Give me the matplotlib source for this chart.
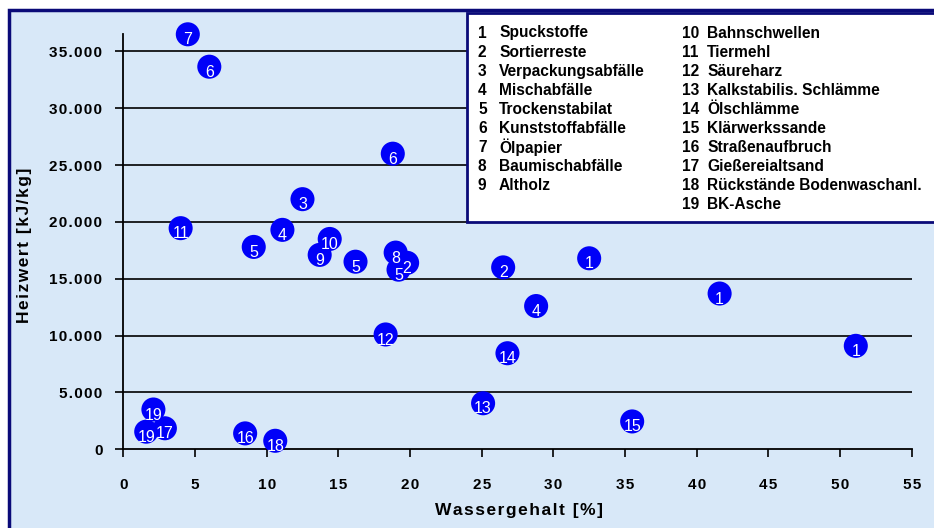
import matplotlib.pyplot as plt
from matplotlib.patches import Rectangle

# Data
wassergehalt = [4.5, 6.0, 18.8, 12.5, 4.0, 11.1, 14.4, 9.1, 13.7, 16.2,
                19.0, 19.8, 19.2, 26.5, 32.5, 41.6, 28.8, 51.1, 26.8,
                25.1, 35.5, 18.3, 2.1, 1.6, 2.9, 8.5, 10.6]
heizwert = [36500, 33650, 26000, 22000, 19450, 19300, 18500, 17800, 17100, 16500,
            17300, 16400, 15800, 16000, 16800, 13700, 12600, 9100, 8450,
            4050, 2450, 10100, 3500, 1550, 1850, 1400, 750]
nummer = ["7", "6", "6", "3", "11", "4", "10", "5", "9", "5",
          "8", "2", "5", "2", "1", "1", "4", "1", "14",
          "13", "15", "12", "19", "19", "17", "16", "18"]

stoffe = ["Spuckstoffe", "Sortierreste", "Verpackungsabfälle", "Mischabfälle",
          "Trockenstabilat", "Kunststoffabfälle", "Ölpapier", "Baumischabfälle",
          "Altholz", "Bahnschwellen", "Tiermehl", "Säureharz",
          "Kalkstabilis. Schlämme", "Ölschlämme", "Klärwerkssande",
          "Straßenaufbruch", "Gießereialtsand", "Rückstände Bodenwaschanl.",
          "BK-Asche"]

x_ticks = list(range(0, 60, 5))
y_ticks = list(range(0, 40000, 5000))

W, H = 934, 528
FONT = ["Liberation Sans", "DejaVu Sans"]
plt.rcParams["font.family"] = FONT
SP = "\u200a"  # small gap between letters, like the original


def spaced(s):
    return SP.join(s)


def fx(px):
    return px / W


def fy(py):
    return 1 - py / H


fig = plt.figure(figsize=(W / 100, H / 100), dpi=100)
fig.patch.set_facecolor("white")

# light blue chart area with navy frame
fig.patches.append(Rectangle((fx(9), fy(560)), fx(960), fy(10) - fy(560),
                             transform=fig.transFigure, facecolor="#d8e8f8",
                             edgecolor="#0a0a78", lw=2.5, zorder=0))

ax = fig.add_axes([fx(123.3), fy(449.3), fx(911.7 - 123.3), (449.3 - 34.3) / H])
ax.set_zorder(1)
ax.set_facecolor("none")
ax.set_xlim(0, 55)
ax.set_ylim(0, 36500)

for s in ["top", "right"]:
    ax.spines[s].set_visible(False)
ax.spines["left"].set_linewidth(1.3)
ax.spines["bottom"].set_linewidth(1.3)

for yv in y_ticks[1:]:
    ax.axhline(yv, color="black", lw=1.2, zorder=1)

ax.set_xticks(x_ticks)
ax.set_xticklabels([spaced(str(v)) for v in x_ticks])
ax.set_yticks(y_ticks)
ax.set_yticklabels([spaced(f"{v:,}".replace(",", ".")) for v in y_ticks])
ax.tick_params(axis="x", direction="out", length=5.5, width=1.2, pad=15, labelsize=11)
ax.tick_params(axis="y", direction="out", length=6, width=1.2, pad=9, labelsize=11)
for lab in ax.get_xticklabels() + ax.get_yticklabels():
    lab.set_fontweight("bold")

ax.scatter(wassergehalt, heizwert, s=300, color="#0000f8", zorder=3, clip_on=False,
           edgecolors="none")
for xv, yv, n in zip(wassergehalt, heizwert, nummer):
    ax.annotate(n, (xv, yv), xytext=(0, -4), textcoords="offset points",
                ha="center", va="center", color="white", fontsize=11.5, zorder=4,
                annotation_clip=False)

fig.text(fx(25), fy(245), spaced("Heizwert [kJ/kg]"), rotation=90, ha="center",
         va="center", fontsize=12.5, fontweight="bold", zorder=2)
fig.text(fx(519), fy(511), spaced("Wassergehalt [%]"), ha="center", va="center",
         fontsize=12.5, fontweight="bold", zorder=2)

# legend box with the numbered list
fig.patches.append(Rectangle((fx(467), fy(222)), fx(500), (222 - 13) / H,
                             transform=fig.transFigure, facecolor="white",
                             edgecolor="#0a0a78", lw=2, zorder=2))
for i, name in enumerate(stoffe):
    row = i if i < 9 else i - 9
    py = 33 + row * 19.1
    xn = 478 if i < 9 else 682
    xs = 499 if i < 9 else 707
    fig.text(fx(xn), fy(py), str(i + 1), ha="left", va="center", fontsize=11.2,
             fontweight="bold", zorder=3)
    fig.text(fx(xs), fy(py), name, ha="left", va="center", fontsize=11.2,
             fontweight="bold", zorder=3)

fig.savefig("out.png", dpi=100)
